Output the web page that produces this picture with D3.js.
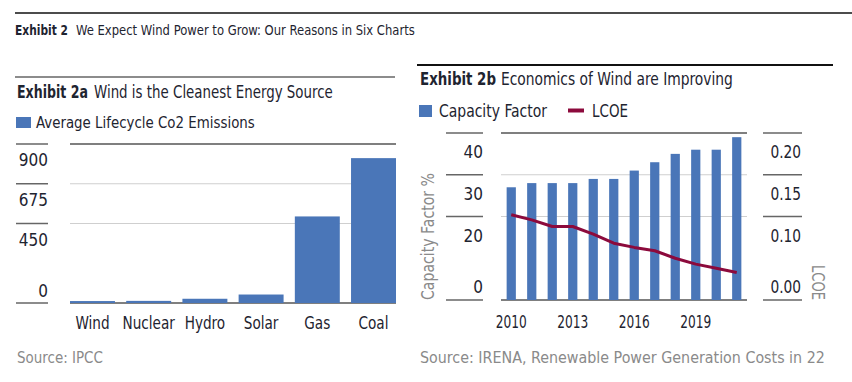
<!DOCTYPE html>
<html>
<head>
<meta charset="utf-8">
<script src="https://cdn.jsdelivr.net/npm/d3@7"></script>
<style>
  body { margin: 0; background: #fff; }
  svg text { font-family: "Liberation Sans Narrow", "DejaVu Sans Condensed", "Liberation Sans", sans-serif; }
</style>
</head>
<body>
<div id="chart"></div>
<script>
// Chart size.
var width = 852;
var height = 382;

// Exhibit 2a data.
var sources = ["Wind", "Nuclear", "Hydro", "Solar", "Gas", "Coal"];
var emissions = [11, 12, 24, 48, 490, 820];
var emissionTicks = [900, 675, 450, 0];

// Exhibit 2b data.
var years = [2010, 2011, 2012, 2013, 2014, 2015, 2016, 2017, 2018, 2019, 2020, 2021];
var capacityFactor = [27, 28, 28, 28, 29, 29, 31, 33, 35, 36, 36, 39];
var lcoe = [0.102, 0.096, 0.088, 0.088, 0.079, 0.068, 0.063, 0.059, 0.050, 0.043, 0.038, 0.033];
var cfTicks = [40, 30, 20, 0];
var lcoeTicks = [0.20, 0.15, 0.10, 0.00];
var yearLabels = [2010, 2013, 2016, 2019];

var blue = "#4a76b8";
var crimson = "#8c0a3c";
var textColor = "#1e2430";
var grey = "#8a8a8a";

// The original uses a condensed face: scale text horizontally by k,
// keeping its anchor point where it was.
function condense(sel, k) {
  sel.each(function() {
    var t = d3.select(this);
    var base = t.attr("transform") || ("translate(" + t.attr("x") + "," + t.attr("y") + ")");
    t.attr("x", null).attr("y", null)
      .attr("transform", base + " scale(" + k + ",1)");
  });
}
// Same, but to a given width.
function squeeze(sel, w) {
  sel.each(function() {
    var k = w / this.getComputedTextLength();
    d3.select(this).call(condense, k);
  });
}

var svg = d3.select("#chart").append("svg")
    .attr("width", width)
    .attr("height", height);

// Top rule and overall title.
svg.append("line")
    .attr("x1", 15).attr("x2", width)
    .attr("y1", 13).attr("y2", 13)
    .attr("stroke", "#111").attr("stroke-width", 1.5);

svg.append("text")
    .attr("x", 15).attr("y", 35)
    .attr("font-size", 14)
    .attr("font-weight", "bold")
    .attr("fill", textColor)
    .text("Exhibit 2")
    .call(squeeze, 53);
svg.append("text")
    .attr("x", 76).attr("y", 35)
    .attr("font-size", 14)
    .attr("fill", textColor)
    .text("We Expect Wind Power to Grow: Our Reasons in Six Charts")
    .call(squeeze, 339);

// ---------------- Exhibit 2a ----------------
var left = svg.append("g");

left.append("line")
    .attr("x1", 15).attr("x2", 395)
    .attr("y1", 77).attr("y2", 77)
    .attr("stroke", "#666").attr("stroke-width", 1.5);

left.append("text")
    .attr("x", 17).attr("y", 98)
    .attr("font-size", 17)
    .attr("font-weight", "bold")
    .attr("fill", textColor)
    .text("Exhibit 2a")
    .call(squeeze, 71);
left.append("text")
    .attr("x", 94).attr("y", 98)
    .attr("font-size", 17)
    .attr("fill", textColor)
    .text("Wind is the Cleanest Energy Source")
    .call(squeeze, 239);

left.append("rect")
    .attr("x", 16).attr("y", 117)
    .attr("width", 15).attr("height", 11)
    .attr("fill", blue);
left.append("text")
    .attr("x", 36).attr("y", 128)
    .attr("font-size", 16)
    .attr("fill", textColor)
    .text("Average Lifecycle Co2 Emissions")
    .call(squeeze, 219);

var xA = d3.scaleBand()
    .domain(sources)
    .range([70, 396])
    .paddingInner(0.2)
    .paddingOuter(0);

var yA = d3.scaleLinear()
    .domain([0, 900])
    .range([303, 144]);

// Gridlines.
left.selectAll(".grid")
    .data(emissionTicks)
    .enter().append("line")
    .attr("x1", 70).attr("x2", 396)
    .attr("y1", function(d) { return yA(d); })
    .attr("y2", function(d) { return yA(d); })
    .attr("stroke", function(d) { return (d == 0 || d == 900) ? "#555" : "#cfcfcf"; })
    .attr("stroke-width", function(d) { return (d == 0 || d == 900) ? 1.5 : 1.2; });

// Axis tick marks on the left.
left.selectAll(".tick")
    .data(emissionTicks)
    .enter().append("line")
    .attr("x1", 16).attr("x2", 48)
    .attr("y1", function(d) { return yA(d); })
    .attr("y2", function(d) { return yA(d); })
    .attr("stroke", "#666").attr("stroke-width", 1.5);

left.selectAll(".ticklabel")
    .data(emissionTicks)
    .enter().append("text")
    .attr("x", 48)
    .attr("y", function(d) { return d == 0 ? yA(d) - 6 : yA(d) + 22; })
    .attr("text-anchor", "end")
    .attr("font-size", 17)
    .attr("fill", textColor)
    .text(function(d) { return d; });

left.selectAll(".bar")
    .data(emissions)
    .enter().append("rect")
    .attr("x", function(d, i) { return xA(sources[i]); })
    .attr("width", xA.bandwidth())
    .attr("y", function(d) { return yA(d); })
    .attr("height", function(d) { return yA(0) - yA(d); })
    .attr("fill", blue);

left.selectAll(".xlabel")
    .data(sources)
    .enter().append("text")
    .attr("x", function(d) { return xA(d) + xA.bandwidth() / 2; })
    .attr("y", 329)
    .attr("text-anchor", "middle")
    .attr("font-size", 17)
    .attr("fill", textColor)
    .text(function(d) { return d; })
    .call(condense, 0.89);

left.append("text")
    .attr("x", 17).attr("y", 363)
    .attr("font-size", 15)
    .attr("fill", grey)
    .text("Source: IPCC")
    .call(squeeze, 86);

// ---------------- Exhibit 2b ----------------
var right = svg.append("g");

right.append("line")
    .attr("x1", 417).attr("x2", 833)
    .attr("y1", 65).attr("y2", 65)
    .attr("stroke", "#111").attr("stroke-width", 2);

right.append("text")
    .attr("x", 420).attr("y", 85)
    .attr("font-size", 17)
    .attr("font-weight", "bold")
    .attr("fill", textColor)
    .text("Exhibit 2b")
    .call(squeeze, 76);
right.append("text")
    .attr("x", 501).attr("y", 85)
    .attr("font-size", 17)
    .attr("fill", textColor)
    .text("Economics of Wind are Improving")
    .call(squeeze, 232);

right.append("rect")
    .attr("x", 419).attr("y", 105)
    .attr("width", 13).attr("height", 12)
    .attr("fill", blue);
right.append("text")
    .attr("x", 439).attr("y", 117)
    .attr("font-size", 17)
    .attr("fill", textColor)
    .text("Capacity Factor")
    .call(squeeze, 108);
right.append("line")
    .attr("x1", 568).attr("x2", 584)
    .attr("y1", 110.5).attr("y2", 110.5)
    .attr("stroke", crimson).attr("stroke-width", 4);
right.append("text")
    .attr("x", 592).attr("y", 117)
    .attr("font-size", 17)
    .attr("fill", textColor)
    .text("LCOE")
    .call(squeeze, 36);

var xB = d3.scaleBand()
    .domain(years)
    .range([501, 747])
    .paddingInner(0.55)
    .paddingOuter(0.275);

var yB = d3.scaleLinear()
    .domain([0, 40])
    .range([300, 133]);

var yB2 = d3.scaleLinear()
    .domain([0, 0.2])
    .range([300, 133]);

right.selectAll(".grid")
    .data(cfTicks)
    .enter().append("line")
    .attr("x1", 501).attr("x2", 747)
    .attr("y1", function(d) { return yB(d); })
    .attr("y2", function(d) { return yB(d); })
    .attr("stroke", function(d) { return (d == 0 || d == 40) ? "#555" : "#cfcfcf"; })
    .attr("stroke-width", function(d) { return (d == 0 || d == 40) ? 1.5 : 1.2; });

right.selectAll(".tickL")
    .data(cfTicks)
    .enter().append("line")
    .attr("x1", 446).attr("x2", 483)
    .attr("y1", function(d) { return yB(d); })
    .attr("y2", function(d) { return yB(d); })
    .attr("stroke", "#666").attr("stroke-width", 1.5);

right.selectAll(".labelL")
    .data(cfTicks)
    .enter().append("text")
    .attr("x", 483)
    .attr("y", function(d) { return d == 0 ? yB(d) - 7 : yB(d) + 25; })
    .attr("text-anchor", "end")
    .attr("font-size", 17)
    .attr("fill", textColor)
    .text(function(d) { return d; });

right.selectAll(".tickR")
    .data(lcoeTicks)
    .enter().append("line")
    .attr("x1", 763).attr("x2", 802)
    .attr("y1", function(d) { return yB2(d); })
    .attr("y2", function(d) { return yB2(d); })
    .attr("stroke", "#666").attr("stroke-width", 1.5);

right.selectAll(".labelR")
    .data(lcoeTicks)
    .enter().append("text")
    .attr("x", 801)
    .attr("y", function(d) { return d == 0 ? yB2(d) - 7 : yB2(d) + 25; })
    .attr("text-anchor", "end")
    .attr("font-size", 17)
    .attr("fill", textColor)
    .text(function(d) { return d3.format(".2f")(d); })
    .call(condense, 0.9);

right.selectAll(".bar")
    .data(capacityFactor)
    .enter().append("rect")
    .attr("x", function(d, i) { return xB(years[i]); })
    .attr("width", xB.bandwidth())
    .attr("y", function(d) { return yB(d); })
    .attr("height", function(d) { return yB(0) - yB(d); })
    .attr("fill", blue);

var line = d3.line()
    .x(function(d, i) { return xB(years[i]) + xB.bandwidth() / 2; })
    .y(function(d) { return yB2(d); });

right.append("path")
    .datum(lcoe)
    .attr("d", line)
    .attr("fill", "none")
    .attr("stroke", crimson)
    .attr("stroke-width", 3)
    .attr("stroke-linejoin", "round");

right.selectAll(".xlabel")
    .data(yearLabels)
    .enter().append("text")
    .attr("x", function(d) { return xB(d) + xB.bandwidth() / 2; })
    .attr("y", 328)
    .attr("text-anchor", "middle")
    .attr("font-size", 17)
    .attr("fill", textColor)
    .text(function(d) { return d; })
    .call(squeeze, 31);

// Axis titles.
right.append("text")
    .attr("transform", "translate(434,300) rotate(-90)")
    .attr("font-size", 17)
    .attr("fill", grey)
    .text("Capacity Factor %")
    .call(squeeze, 127);

right.append("text")
    .attr("transform", "translate(812,300) rotate(90)")
    .attr("text-anchor", "end")
    .attr("font-size", 17)
    .attr("fill", grey)
    .text("LCOE")
    .call(squeeze, 35);

right.append("text")
    .attr("x", 420).attr("y", 363)
    .attr("font-size", 15)
    .attr("fill", grey)
    .text("Source: IRENA, Renewable Power Generation Costs in 22")
    .call(squeeze, 405);
</script>
</body>
</html>
